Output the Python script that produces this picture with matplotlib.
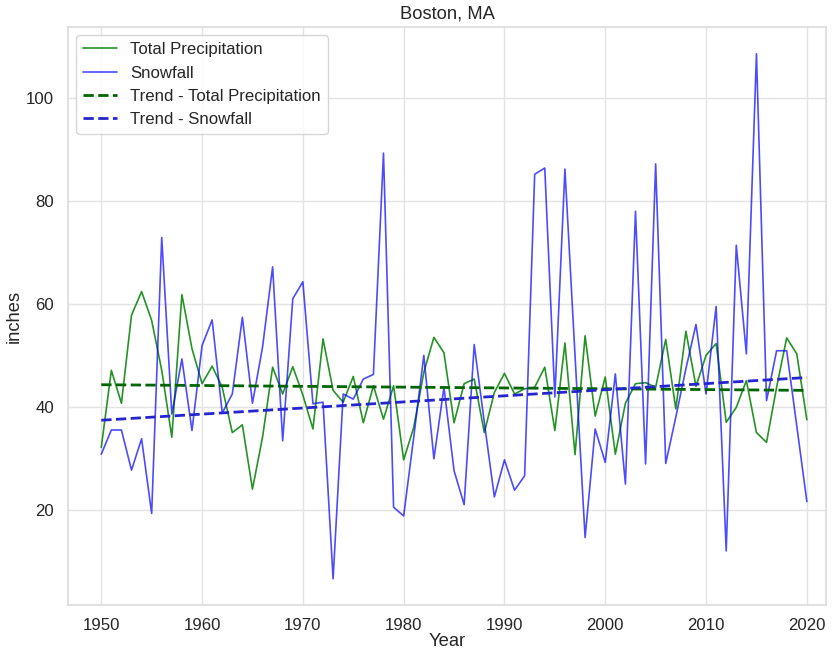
import numpy as np
import matplotlib
matplotlib.use('Agg')
import matplotlib.pyplot as plt
import seaborn as sns

years = list(range(1950, 2021))

precip = [32.1, 47.1, 40.7, 57.8, 62.4, 56.8, 47.1, 34.1, 61.8, 51.3,
          44.5, 47.9, 43.8, 35.0, 36.5, 24.0, 34.1, 47.7, 42.5, 47.8,
          42.3, 35.7, 53.2, 43.2, 40.9, 45.9, 36.9, 44.1, 37.6, 44.1,
          29.7, 36.0, 46.7, 53.5, 50.5, 36.9, 44.5, 45.4, 35.0, 42.8,
          46.5, 42.5, 43.5, 43.8, 47.7, 35.4, 52.4, 30.7, 53.8, 38.2,
          45.8, 30.8, 40.7, 44.5, 44.7, 43.8, 53.1, 39.6, 54.7, 44.0,
          50.0, 52.3, 37.0, 39.9, 45.1, 35.0, 33.1, 43.8, 53.4, 50.3,
          37.5]

snow = [30.8, 35.5, 35.5, 27.7, 33.8, 19.3, 72.9, 38.6, 49.3, 35.4,
        51.9, 56.9, 38.8, 42.5, 57.4, 40.7, 51.6, 67.2, 33.4, 61.0,
        64.3, 40.6, 40.9, 6.6, 42.5, 41.5, 45.4, 46.3, 89.3, 20.5,
        18.8, 34.1, 50.0, 29.9, 43.8, 27.6, 21.0, 52.1, 37.0, 22.5,
        29.7, 23.8, 26.6, 85.2, 86.4, 41.9, 86.2, 50.0, 14.6, 35.7,
        29.2, 46.4, 25.0, 78.0, 28.9, 87.2, 29.0, 38.0, 47.4, 56.0,
        42.5, 59.5, 12.0, 71.4, 50.3, 108.6, 41.2, 50.9, 50.9, 36.3,
        21.6]

# trend lines (start / end year values)
trend_years = [1950, 2020]
trend_precip = [44.3, 43.2]
trend_snow = [37.4, 45.7]

sns.set_theme(style='whitegrid', font_scale=1.1)
plt.rcParams['font.family'] = ['Liberation Sans', 'DejaVu Sans']
plt.rcParams['grid.color'] = '#e3e3e3'
plt.rcParams['axes.edgecolor'] = '#dddddd'

fig = plt.figure(figsize=(8.36, 6.49), dpi=100)
ax = fig.add_axes([68/836, 1-605/649, (826-68)/836, (605-27)/649])

ax.plot(years, precip, color='green', alpha=0.85, lw=1.2, label='Total Precipitation')
ax.plot(years, snow, color='blue', alpha=0.7, lw=1.2, label='Snowfall')
ax.plot(trend_years, trend_precip, color='darkgreen', ls='--', lw=2,
        label='Trend - Total Precipitation')
ax.plot(trend_years, trend_snow, color='#2525d0', ls='--', lw=2,
        label='Trend - Snowfall')

ax.set_xlim(1946.7, 2021.9)
ax.set_ylim(1.5, 113.8)
ax.tick_params(axis='x', pad=3)
ax.tick_params(axis='y', pad=4)
ax.set_xlabel('Year', labelpad=0)
ax.set_ylabel('inches', labelpad=2)
ax.set_title('Boston, MA', pad=6)
ax.legend(loc='upper left')

plt.savefig('out.png', dpi=100)
